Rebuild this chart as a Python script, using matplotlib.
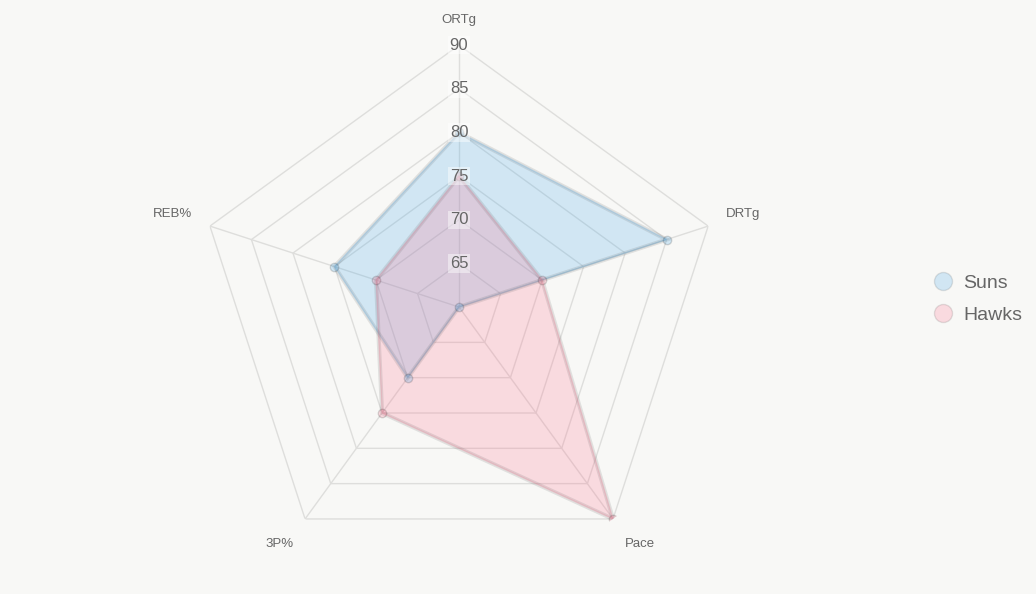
import numpy as np
import matplotlib.pyplot as plt
from matplotlib.lines import Line2D

# Dane
kategorie = ['ORTg', 'DRTg', 'Pace', '3P%', 'REB%']
suns = [80, 85, 60, 70, 75]
hawks = [75, 70, 90, 75, 70]
druzyny = ['Suns', 'Hawks']
ticki = [65, 70, 75, 80, 85, 90]
r_min, r_max = 60, 90

tlo = '#f8f8f6'
kolory_wypelnienia = [(54/255, 162/255, 235/255, 0.2), (255/255, 99/255, 132/255, 0.2)]
obwodka = (0.35, 0.35, 0.35, 0.15)
siatka = '#dededc'

plt.rcParams['font.family'] = ['Liberation Sans', 'DejaVu Sans']

fig = plt.figure(figsize=(10.36, 5.94), dpi=100, facecolor=tlo)
ax = fig.add_axes([0.1902, 0.0421, 0.5058, 0.882], projection='polar')
ax.set_facecolor('none')
ax.set_theta_offset(np.pi / 2)
ax.set_theta_direction(-1)
ax.set_ylim(r_min, r_max)
ax.grid(False)
ax.spines['polar'].set_visible(False)
ax.set_xticks([])
ax.set_yticks([])

n = len(kategorie)
katy = np.linspace(0, 2 * np.pi, n, endpoint=False)
katy_z = np.concatenate([katy, katy[:1]])

# Siatka pieciokatna
for t in ticki:
    ax.plot(katy_z, [t] * (n + 1), color=siatka, lw=1, zorder=1)
for k in katy:
    ax.plot([k, k], [r_min, r_max], color=siatka, lw=1, zorder=1)

# Serie
for wartosci, kolor in zip([suns, hawks], kolory_wypelnienia):
    w = np.concatenate([wartosci, wartosci[:1]])
    ax.fill(katy_z, w, color=kolor, zorder=2)
    ax.plot(katy_z, w, color=obwodka, lw=3, zorder=3, solid_joinstyle='miter')
    ax.plot(katy, wartosci, 'o', ms=6, mfc=kolor, mec=(0, 0, 0, 0.15), mew=1, zorder=4)

# Etykiety skali
for t in ticki:
    ax.text(0, t, str(t), ha='center', va='center', fontsize=12, color='#666666',
            bbox=dict(boxstyle='square,pad=0.1', fc=(1, 1, 1, 0.45), ec='none'), zorder=5)

# Etykiety osi (przesuniecia w pikselach od wierzcholka)
przesuniecia = [(0, 25), (35, 12), (27, -25), (-26, -25), (-37, 12)]
for k, nazwa, (dx, dy) in zip(katy, kategorie, przesuniecia):
    ax.annotate(nazwa, xy=(k, r_max), xytext=(dx * 0.72, dy * 0.72),
                textcoords='offset points', ha='center', va='center',
                fontsize=9.5, color='#666666', annotation_clip=False)

# Legenda
uchwyty = [Line2D([], [], marker='o', ls='none', ms=13, mfc=c, mec=(0, 0, 0, 0.1), mew=1)
           for c in kolory_wypelnienia]
fig.legend(uchwyty, druzyny, loc='center left', bbox_to_anchor=(0.897, 0.496),
           frameon=False, fontsize=14, labelcolor='#666666', handletextpad=0.35,
           handlelength=1.4, labelspacing=0.75, borderaxespad=0, borderpad=0)

fig.savefig('out.png', dpi=100, facecolor=tlo)
